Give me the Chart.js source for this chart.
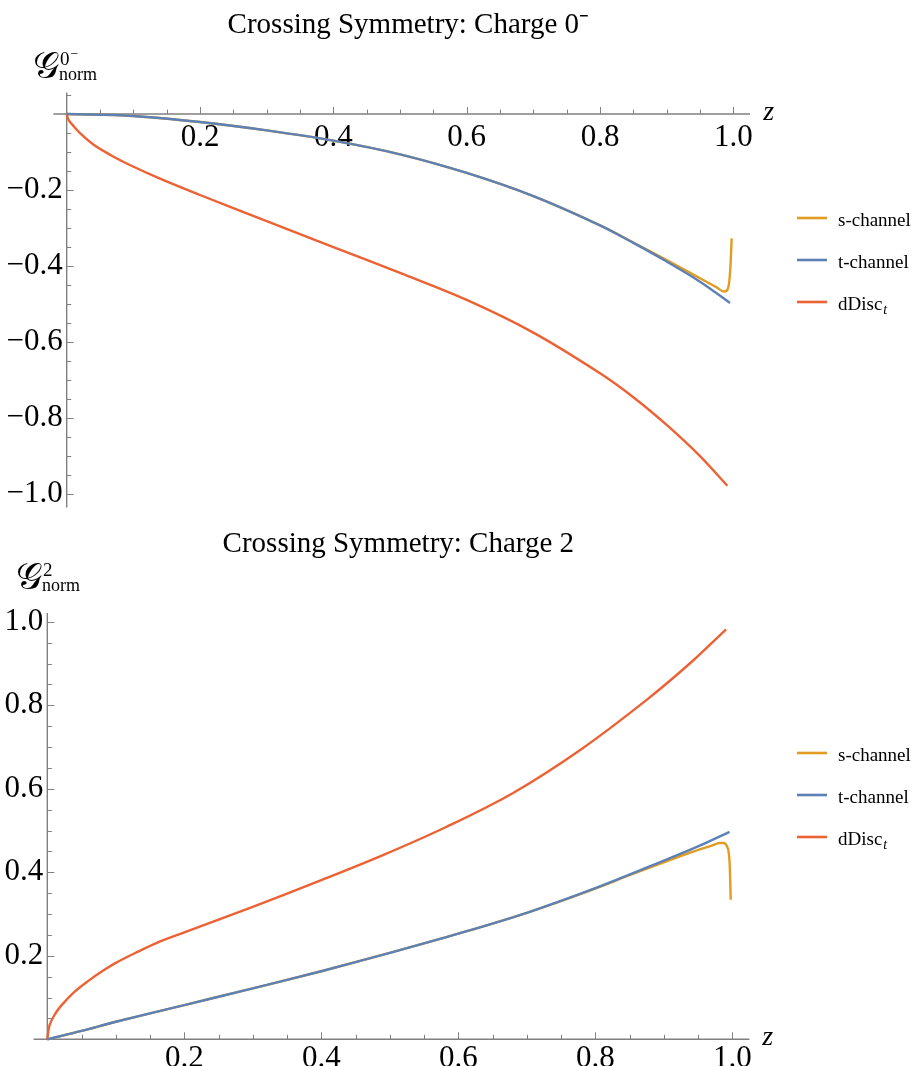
<!DOCTYPE html>
<html>
<head>
<meta charset="utf-8">
<script src="https://cdn.jsdelivr.net/npm/chart.js@4.4.1/dist/chart.umd.min.js"></script>
<style>
html,body{margin:0;padding:0;background:#fff;}
#wrap{position:relative;width:912px;height:1066px;overflow:hidden;background:#fff;}
#c1{position:absolute;left:0;top:0;}
#c2{position:absolute;left:0;top:519px;}
</style>
</head>
<body>
<div id="wrap">
<canvas id="c1" width="912" height="530"></canvas>
<canvas id="c2" width="912" height="547"></canvas>
</div>
<script>
// ---------------- data ----------------
const seriesLabels = ['s-channel', 't-channel', 'dDisc'];
const seriesColors = ['#E19C24', '#5E81B5', '#EB6235'];

const xTicks = [0.2, 0.4, 0.6, 0.8, 1.0];
const yTicksTop = [-0.2, -0.4, -0.6, -0.8, -1.0];
const yTicksBottom = [0.2, 0.4, 0.6, 0.8, 1.0];

// Panel 1: Charge 0^-
const zS0 = [0, 0.1, 0.2, 0.3, 0.4, 0.5, 0.6, 0.7, 0.8, 0.85, 0.9, 0.95, 0.975, 0.986, 0.99, 0.993, 0.9945, 0.996, 0.9975];
const sChan0 = [0, -0.005, -0.021, -0.043, -0.07, -0.106, -0.155, -0.216, -0.293, -0.338, -0.384, -0.432, -0.456, -0.467, -0.465, -0.452, -0.43, -0.39, -0.327];
const zT0 = [0, 0.1, 0.2, 0.3, 0.4, 0.5, 0.6, 0.7, 0.8, 0.85, 0.9, 0.95, 0.995];
const tChan0 = [0, -0.005, -0.021, -0.043, -0.07, -0.106, -0.155, -0.216, -0.293, -0.339, -0.388, -0.441, -0.497];
const zD0 = [0, 0.003, 0.01, 0.02, 0.04, 0.065, 0.09, 0.14, 0.2, 0.3, 0.4, 0.5, 0.6, 0.7, 0.8, 0.85, 0.9, 0.95, 0.991];
const dDisc0 = [0, -0.016, -0.031, -0.05, -0.08, -0.107, -0.130, -0.170, -0.213, -0.282, -0.350, -0.418, -0.489, -0.575, -0.682, -0.745, -0.818, -0.900, -0.978];

// Panel 2: Charge 2
const zS2 = [0, 0.05, 0.1, 0.2, 0.3, 0.4, 0.5, 0.6, 0.7, 0.8, 0.85, 0.9, 0.94, 0.97, 0.982, 0.987, 0.992, 0.995, 0.9965, 0.9977];
const sChan2 = [0, 0.02, 0.042, 0.082, 0.122, 0.163, 0.207, 0.253, 0.303, 0.361, 0.393, 0.424, 0.448, 0.464, 0.470, 0.470, 0.463, 0.445, 0.41, 0.334];
const zT2 = [0, 0.05, 0.1, 0.2, 0.3, 0.4, 0.5, 0.6, 0.7, 0.8, 0.9, 0.95, 0.996];
const tChan2 = [0, 0.02, 0.042, 0.082, 0.122, 0.163, 0.207, 0.253, 0.303, 0.362, 0.428, 0.462, 0.497];
const zD2 = [0, 0.003, 0.01, 0.02, 0.04, 0.06, 0.08, 0.1, 0.13, 0.16, 0.2, 0.3, 0.4, 0.49, 0.583, 0.68, 0.778, 0.875, 0.94, 0.991];
const dDisc2 = [0, 0.032, 0.057, 0.080, 0.114, 0.140, 0.163, 0.183, 0.208, 0.231, 0.256, 0.317, 0.381, 0.441, 0.509, 0.590, 0.693, 0.813, 0.903, 0.982];

// ---------------- helpers ----------------
const SERIF = "'Liberation Serif', 'Times New Roman', serif";
const pts = (xs, ys) => xs.map((x, i) => ({x: x, y: ys[i]}));
const fmt = v => (v < 0 ? '\u2212' : '') + Math.abs(v).toFixed(1);

function ds(i, xs, ys, order, monotone) {
  const d = {
    label: seriesLabels[i], data: pts(xs, ys),
    borderColor: seriesColors[i], backgroundColor: seriesColors[i],
    borderWidth: 2.4, pointRadius: 0, fill: false, order: order, clip: false
  };
  if (monotone) d.cubicInterpolationMode = 'monotone'; else d.tension = 0.35;
  return d;
}

// Mathematica-style axes with inward ticks, drawn through the chart scales
const axesPlugin = {
  id: 'mmaAxes',
  beforeDatasetsDraw(chart) {
    const ctx = chart.ctx, xs = chart.scales.x, ys = chart.scales.y, ca = chart.chartArea;
    const x0 = xs.getPixelForValue(0), y0 = ys.getPixelForValue(0);
    ctx.save();
    ctx.strokeStyle = '#808080';
    ctx.lineWidth = 1.4;
    ctx.beginPath();
    ctx.moveTo(xs.getPixelForValue(-0.02), y0); ctx.lineTo(ca.right, y0);
    ctx.moveTo(x0, ca.top); ctx.lineTo(x0, Math.max(ca.bottom, y0));
    ctx.stroke();
    ctx.lineWidth = 1;
    ctx.beginPath();
    for (let k = 1; k <= 20; k++) {
      const px = Math.round(xs.getPixelForValue(k * 0.05)) + 0.5;
      const len = (k % 4 === 0) ? 7 : 4.5;
      ctx.moveTo(px, y0); ctx.lineTo(px, y0 - len);
    }
    const kmin = Math.ceil(ys.min / 0.05 - 1e-9), kmax = Math.floor(ys.max / 0.05 + 1e-9);
    for (let k = kmin; k <= kmax; k++) {
      if (k === 0) continue;
      const py = Math.round(ys.getPixelForValue(k * 0.05)) + 0.5;
      const len = (k % 4 === 0) ? 7 : 4.5;
      ctx.moveTo(x0, py); ctx.lineTo(x0 + len, py);
    }
    ctx.stroke();
    ctx.restore();
  }
};

// Axis labels and legend
const labelsPlugin = {
  id: 'mmaLabels',
  afterDraw(chart, args, o) {
    const ctx = chart.ctx, xs = chart.scales.x, ys = chart.scales.y;
    const y0 = ys.getPixelForValue(0), x1 = xs.getPixelForValue(1);
    ctx.save();
    ctx.fillStyle = '#000';
    ctx.textBaseline = 'alphabetic';
    ctx.textAlign = 'left';
    // z label
    ctx.font = 'italic 28px ' + SERIF;
    ctx.fillText('z', x1 + 30, y0 + 6);
    // y label: script G with super/subscripts
    const g = o.gLabel;
    ctx.font = '37px ' + SERIF;
    const G = '\uD835\uDCA2';
    ctx.fillText(G, g.x, g.y);
    const gw = ctx.measureText(G).width;
    ctx.font = '19px ' + SERIF;
    ctx.fillText(g.sup, g.x + gw + 1, g.y - 13);
    if (g.supMinus) {
      const sw = ctx.measureText(g.sup).width;
      ctx.font = '14px ' + SERIF;
      ctx.fillText('\u2212', g.x + gw + 2 + sw, g.y - 20);
    }
    ctx.font = '18px ' + SERIF;
    ctx.fillText('norm', g.x + gw, g.y + 2);
    // legend
    const L = o.legend;
    chart.data.datasets.forEach((d, i) => {
      const y = L.y0 + i * L.dy;
      ctx.strokeStyle = d.borderColor;
      ctx.lineWidth = 2.6;
      ctx.beginPath(); ctx.moveTo(L.x, y); ctx.lineTo(L.x + 30, y); ctx.stroke();
      ctx.font = '19px ' + SERIF;
      ctx.fillText(d.label, L.x + 41, y + 8);
      if (d.label === 'dDisc') {
        const w = ctx.measureText(d.label).width;
        ctx.font = 'italic 14px ' + SERIF;
        ctx.fillText('t', L.x + 41 + w + 1, y + 12);
      }
    });
    ctx.restore();
  }
};

function scales(yMin, yMax, yTicks, yWidth, xPad) {
  const tickFont = {family: SERIF, size: 31};
  return {
    x: {
      type: 'linear', min: 0, max: 1.025, position: {y: 0},
      grid: {display: false, drawTicks: false}, border: {display: false},
      ticks: {font: tickFont, color: '#000', padding: xPad, maxRotation: 0, autoSkip: false, callback: v => fmt(v)},
      afterBuildTicks: s => { s.ticks = xTicks.map(v => ({value: v})); },
      afterFit: s => { s.height = 0; }
    },
    y: {
      type: 'linear', min: yMin, max: yMax, position: 'left',
      grid: {display: false, drawTicks: false}, border: {display: false},
      ticks: {font: tickFont, color: '#000', padding: 4, autoSkip: false, callback: v => fmt(v)},
      afterBuildTicks: s => { s.ticks = yTicks.map(v => ({value: v})); },
      afterFit: s => { s.width = yWidth; }
    }
  };
}

function titleOpts(text, padBottom) {
  return {
    display: true, text: text, color: '#000', fullSize: false,
    font: {family: SERIF, size: 29, weight: 'normal', lineHeight: 1.2},
    padding: {top: 0, bottom: padBottom}
  };
}

new Chart(document.getElementById('c1'), {
  type: 'line',
  data: {datasets: [ds(0, zS0, sChan0, 3, true), ds(1, zT0, tChan0, 1, false), ds(2, zD0, dDisc0, 2, false)]},
  options: {
    responsive: false, animation: false, events: [],
    layout: {autoPadding: false, padding: {left: 0, right: 162, top: 8, bottom: 9.9}},
    scales: scales(-1.035, 0.057, yTicksTop, 66.7, 5),
    plugins: {
      legend: {display: false}, tooltip: {enabled: false},
      title: titleOpts('Crossing Symmetry: Charge 0\u207B', 49.6),
      mmaLabels: {gLabel: {x: 33, y: 78, sup: '0', supMinus: true}, legend: {x: 797, y0: 218, dy: 42}}
    }
  },
  plugins: [axesPlugin, labelsPlugin]
});

new Chart(document.getElementById('c2'), {
  type: 'line',
  data: {datasets: [ds(0, zS2, sChan2, 3, true), ds(1, zT2, tChan2, 1, false), ds(2, zD2, dDisc2, 2, false)]},
  options: {
    responsive: false, animation: false, events: [],
    layout: {autoPadding: false, padding: {left: 0, right: 162.6, top: 8, bottom: 26.7}},
    scales: scales(0, 1.021, yTicksBottom, 47.3, 1),
    plugins: {
      legend: {display: false}, tooltip: {enabled: false},
      title: titleOpts('Crossing Symmetry: Charge 2', 51.2),
      mmaLabels: {gLabel: {x: 16, y: 70, sup: '2', supMinus: false}, legend: {x: 797, y0: 234, dy: 42}}
    }
  },
  plugins: [axesPlugin, labelsPlugin]
});
</script>
</body>
</html>
